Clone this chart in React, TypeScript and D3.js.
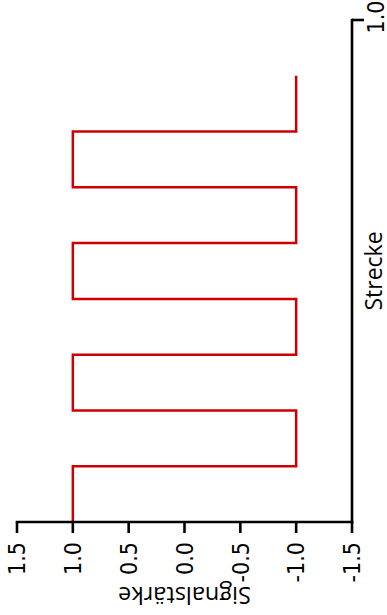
import React from "react";
import * as d3 from "d3";

const strecke = [0, 0.111, 0.222, 0.333, 0.444, 0.556, 0.667, 0.778, 0.889];
const signal = [1, -1, 1, -1, 1, -1, 1, -1, -1];
const signalTicks = [1.5, 1.0, 0.5, 0.0, -0.5, -1.0, -1.5];
const streckeTicks = [1.0];
const signalLabel = "Signalstärke";
const streckeLabel = "Strecke";

const W = 387;
const H = 615;

export default function App() {
  const sx = d3.scaleLinear().domain([1.5, -1.5]).range([17, 352]);
  const sy = d3.scaleLinear().domain([0, 1]).range([522, 20]);
  const pts = strecke.map((s, i) => [sx(signal[i]), sy(s)] as [number, number]);
  const path = d3.line().curve(d3.curveStepBefore)(pts) || "";
  const axisY = sy(0);
  const axisX = sx(-1.5);
  const tickFont = "'DejaVu Sans', sans-serif";
  const labelFont = "'Open Sans', 'DejaVu Sans', sans-serif";
  return (
    <svg
      width={W}
      height={H}
      style={{ position: "absolute", left: 0, top: 0, background: "#fff" }}
    >
      <path d={path} fill="none" stroke="#cc0000" strokeWidth={2.5} />
      {/* Signal axis (bottom) */}
      <line x1={sx(1.5)} x2={sx(-1.5)} y1={axisY} y2={axisY} stroke="#000" strokeWidth={2.6} strokeLinecap="square" />
      {signalTicks.map((t) => (
        <g key={t} transform={`translate(${sx(t)},${axisY})`}>
          <line x1={0} x2={0} y1={0} y2={11} stroke="#000" strokeWidth={2.6} />
          <g transform={`translate(0,${20}) rotate(-90) scale(0.9,1)`}>
            <text
              x={0}
              y={0}
              dy="0.36em"
              textAnchor="end"
              fontFamily={tickFont}
              fontSize={23}
              fill="#000"
            >
              {t.toFixed(1)}
            </text>
          </g>
        </g>
      ))}
      <text
        transform={`translate(${(sx(1.5) + sx(-1.5)) / 2},587) rotate(180)`}
        textAnchor="middle"
        fontFamily={labelFont}
        fontSize={23.5}
        fill="#000"
      >
        {signalLabel}
      </text>
      {/* Strecke axis (right) */}
      <line x1={axisX} x2={axisX} y1={sy(0)} y2={sy(1)} stroke="#000" strokeWidth={2.6} strokeLinecap="square" />
      {streckeTicks.map((t) => (
        <g key={t} transform={`translate(${axisX},${sy(t)})`}>
          <line x1={0} x2={12} y1={0} y2={0} stroke="#000" strokeWidth={2.6} />
          <g transform={`translate(${24},-3) rotate(-90) scale(0.9,1)`}>
            <text
              x={0}
              y={0}
              dy="0.36em"
              textAnchor="middle"
              fontFamily={tickFont}
              fontSize={23}
              fill="#000"
            >
              {t.toFixed(1)}
            </text>
          </g>
        </g>
      ))}
      <text
        transform={`translate(382,${(sy(0) + sy(1)) / 2}) rotate(-90)`}
        textAnchor="middle"
        fontFamily={labelFont}
        fontSize={23}
        fill="#000"
      >
        {streckeLabel}
      </text>
    </svg>
  );
}
